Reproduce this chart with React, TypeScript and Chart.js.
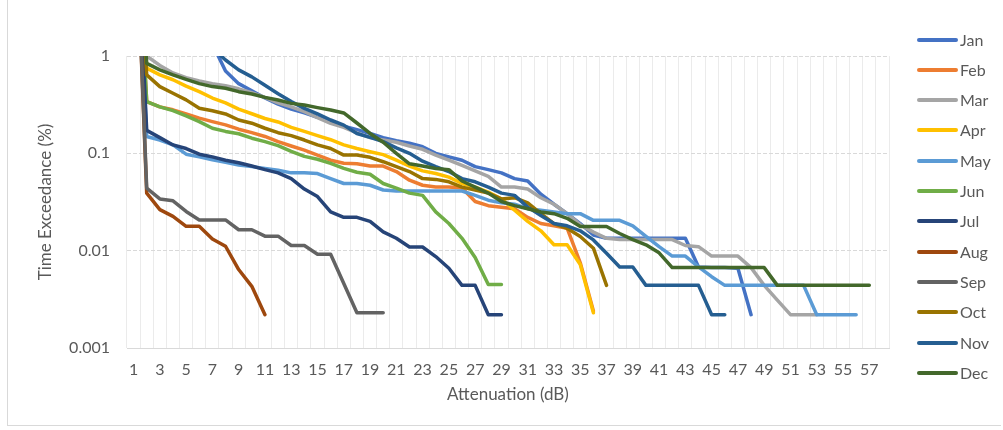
import React, { useEffect, useRef } from "react";
import { Chart, registerables } from "chart.js";

Chart.register(...registerables);

// ---------- DATA ----------
const attenuation = [
  "1", "2", "3", "4", "5", "6", "7", "8", "9", "10",
  "11", "12", "13", "14", "15", "16", "17", "18", "19", "20",
  "21", "22", "23", "24", "25", "26", "27", "28", "29", "30",
  "31", "32", "33", "34", "35", "36", "37", "38", "39", "40",
  "41", "42", "43", "44", "45", "46", "47", "48", "49", "50",
  "51", "52", "53", "54", "55", "56", "57", "58",
];

const yTickValues = [0.001, 0.01, 0.1, 1];
const yTickLabels = ["0.001", "0.01", "0.1", "1"];

const months = ["Jan", "Feb", "Mar", "Apr", "May", "Jun", "Jul", "Aug", "Sep", "Oct", "Nov", "Dec"];
const colors = [
  "#4472C4", "#ED7D31", "#A5A5A5", "#FFC000", "#5B9BD5", "#70AD47",
  "#264478", "#9E480E", "#636363", "#997300", "#255E91", "#43682B",
];

const jan = [
  100, 100, 100, 100, 100, 100, 1.33, 0.7, 0.52, 0.44,
  0.37, 0.32, 0.285, 0.26, 0.235, 0.21, 0.19, 0.175, 0.16, 0.145,
  0.135, 0.127, 0.117, 0.1, 0.092, 0.085, 0.073, 0.068, 0.063, 0.055,
  0.052, 0.038, 0.03, 0.024, 0.019, 0.0145, 0.0134, 0.0134, 0.0134, 0.0134,
  0.0134, 0.0134, 0.0134, 0.0068, 0.0067, 0.0067, 0.0066, 0.0022,
];
const feb = [
  100, 0.34, 0.3, 0.28, 0.254, 0.23, 0.212, 0.196, 0.177, 0.163,
  0.149, 0.132, 0.119, 0.108, 0.096, 0.085, 0.079, 0.078, 0.074, 0.074,
  0.065, 0.053, 0.047, 0.045, 0.045, 0.044, 0.032, 0.029, 0.028, 0.027,
  0.022, 0.019, 0.018, 0.017, 0.0075, 0.0024,
];
const mar = [
  100, 1.0, 0.8, 0.67, 0.6, 0.555, 0.52, 0.495, 0.46, 0.42,
  0.375, 0.33, 0.3, 0.268, 0.232, 0.203, 0.185, 0.162, 0.145, 0.137,
  0.13, 0.119, 0.11, 0.096, 0.085, 0.075, 0.066, 0.058, 0.045, 0.045,
  0.043, 0.035, 0.03, 0.024, 0.0185, 0.0155, 0.0134, 0.013, 0.013, 0.013,
  0.013, 0.013, 0.0113, 0.011, 0.0088, 0.0088, 0.0088, 0.0067, 0.0044, 0.0031,
  0.0022, 0.0022, 0.0022,
];
const apr = [
  100, 0.75, 0.64, 0.57, 0.49, 0.43, 0.37, 0.33, 0.285, 0.255,
  0.228, 0.21, 0.185, 0.168, 0.152, 0.138, 0.122, 0.112, 0.104, 0.097,
  0.085, 0.074, 0.066, 0.062, 0.057, 0.049, 0.045, 0.04, 0.034, 0.026,
  0.02, 0.016, 0.0115, 0.0115, 0.0072, 0.0023,
];
const may = [
  100, 0.149, 0.137, 0.122, 0.098, 0.092, 0.086, 0.081, 0.076, 0.073,
  0.07, 0.067, 0.063, 0.063, 0.062, 0.055, 0.049, 0.049, 0.047, 0.042,
  0.041, 0.041, 0.041, 0.041, 0.041, 0.041, 0.037, 0.033, 0.031, 0.03,
  0.027, 0.026, 0.025, 0.024, 0.024, 0.0205, 0.0205, 0.0205, 0.018, 0.014,
  0.011, 0.0088, 0.0088, 0.0068, 0.0054, 0.0044, 0.0044, 0.0044, 0.0044, 0.0044,
  0.0044, 0.0044, 0.0022, 0.0022, 0.0022, 0.0022,
];
const jun = [
  100, 0.34, 0.3, 0.275, 0.242, 0.212, 0.181, 0.168, 0.159, 0.143,
  0.132, 0.12, 0.105, 0.093, 0.087, 0.079, 0.07, 0.064, 0.061, 0.049,
  0.044, 0.039, 0.037, 0.025, 0.019, 0.0134, 0.0085, 0.0045, 0.0045,
];
const jul = [
  100, 0.172, 0.145, 0.122, 0.112, 0.098, 0.092, 0.085, 0.08, 0.074,
  0.068, 0.063, 0.055, 0.043, 0.036, 0.025, 0.022, 0.022, 0.02, 0.0156,
  0.0134, 0.0109, 0.0109, 0.0087, 0.0066, 0.0044, 0.0044, 0.0022, 0.0022,
];
const aug = [100, 0.039, 0.0264, 0.0225, 0.0178, 0.0178, 0.0132, 0.0111, 0.0064, 0.0043, 0.0022];
const sep = [
  100, 0.044, 0.034, 0.0325, 0.0253, 0.0207, 0.0207, 0.0207, 0.0164, 0.0164,
  0.0141, 0.0141, 0.0113, 0.0113, 0.0092, 0.0092, 0.0046, 0.0023, 0.0023, 0.0023,
];
const oct = [
  100, 0.64, 0.485, 0.414, 0.354, 0.29, 0.274, 0.254, 0.22, 0.204,
  0.181, 0.163, 0.152, 0.137, 0.122, 0.112, 0.096, 0.096, 0.091, 0.082,
  0.073, 0.065, 0.055, 0.054, 0.051, 0.045, 0.042, 0.039, 0.034, 0.035,
  0.031, 0.024, 0.019, 0.017, 0.014, 0.0106, 0.0044,
];
const nov = [
  100, 100, 100, 100, 100, 100, 1.2, 0.91, 0.72, 0.61,
  0.5, 0.41, 0.34, 0.29, 0.255, 0.22, 0.195, 0.16, 0.146, 0.132,
  0.114, 0.1, 0.083, 0.073, 0.065, 0.055, 0.051, 0.045, 0.039, 0.037,
  0.028, 0.023, 0.019, 0.018, 0.016, 0.0129, 0.0094, 0.0068, 0.0068, 0.0044,
  0.0044, 0.0044, 0.0044, 0.0044, 0.0022, 0.0022,
];
const dec = [
  100, 0.84, 0.72, 0.64, 0.575, 0.52, 0.485, 0.466, 0.43, 0.407,
  0.376, 0.353, 0.326, 0.314, 0.295, 0.279, 0.26, 0.205, 0.16, 0.13,
  0.1, 0.078, 0.074, 0.07, 0.068, 0.052, 0.045, 0.039, 0.032, 0.029,
  0.027, 0.025, 0.024, 0.0215, 0.0177, 0.0177, 0.0177, 0.015, 0.013, 0.0115,
  0.0095, 0.0067, 0.0067, 0.0067, 0.0067, 0.0067, 0.0067, 0.0067, 0.0067, 0.0044,
  0.0044, 0.0044, 0.0044, 0.0044, 0.0044, 0.0044, 0.0044,
];

const seriesValues = [jan, feb, mar, apr, may, jun, jul, aug, sep, oct, nov, dec];

const xTitle = "Attenuation (dB)";
const yTitle = "Time Exceedance (%)";

// ---------- STYLE ----------
const FONT = 'Lato, "Open Sans", sans-serif';
const TEXT = "#595959";

export default function App() {
  const ref = useRef<HTMLCanvasElement>(null);

  useEffect(() => {
    if (!ref.current) return;
    const chart = new Chart(ref.current, {
      type: "line",
      data: {
        labels: attenuation,
        datasets: months.map((m, i) => ({
          label: m,
          data: seriesValues[i],
          borderColor: colors[i],
          backgroundColor: colors[i],
          borderWidth: 3.5,
          pointRadius: 0,
          pointHoverRadius: 0,
          tension: 0,
          fill: false,
          borderJoinStyle: "round" as const,
          borderCapStyle: "round" as const,
          clip: 0,
          order: months.length - i,
        })),
      },
      options: {
        responsive: false,
        maintainAspectRatio: false,
        animation: false,
        events: [],
        layout: { padding: { left: 0, right: 114, top: 56, bottom: 12 } },
        plugins: {
          legend: { display: false },
          tooltip: { enabled: false },
        },
        scales: {
          x: {
            type: "category",
            offset: true,
            grid: { offset: true, color: "#ebebeb", lineWidth: 1, drawTicks: false },
            border: { display: true, color: "#d9d9d9", width: 1 },
            ticks: {
              autoSkip: false,
              maxRotation: 0,
              minRotation: 0,
              padding: 12,
              color: TEXT,
              font: { family: FONT, size: 16 },
              callback: (_v: any, i: number) => (i % 2 === 0 ? attenuation[i] : ""),
            },
            title: {
              display: true,
              text: xTitle,
              color: TEXT,
              font: { family: FONT, size: 17 },
              padding: { top: 0, bottom: 13 },
            },
            afterFit: (s: any) => {
              s.height = 70;
            },
          },
          y: {
            type: "logarithmic",
            min: 0.001,
            max: 1,
            afterBuildTicks: (s: any) => {
              s.ticks = yTickValues.map((v) => ({ value: v }));
            },
            grid: { color: "#d9d9d9", lineWidth: 1, drawTicks: false },
            border: { display: false, dash: [4, 2] },
            ticks: {
              padding: 17,
              color: TEXT,
              font: { family: FONT, size: 16 },
              callback: (v: any) => {
                const idx = yTickValues.findIndex((t) => Math.abs(t - Number(v)) < 1e-9);
                return idx >= 0 ? yTickLabels[idx] : "";
              },
            },
            title: {
              display: true,
              text: yTitle,
              color: TEXT,
              font: { family: FONT, size: 17 },
              padding: { top: 35, bottom: 0 },
            },
            afterFit: (s: any) => {
              s.width = 127;
            },
          },
        },
      },
    } as any);
    return () => chart.destroy();
  }, []);

  const legendTop = 39.5;
  const legendStep = 30.3;

  return (
    <div
      style={{
        position: "fixed",
        left: 0,
        top: 0,
        width: 1003,
        height: 430,
        background: "#ffffff",
        overflow: "hidden",
      }}
    >
      <div
        style={{
          position: "absolute",
          left: 7,
          top: 0,
          width: 993,
          height: 425,
          borderLeft: "1px solid #d9d9d9",
          borderBottom: "1px solid #d9d9d9",
        }}
      />
      <canvas ref={ref} width={1003} height={430} style={{ position: "absolute", left: 0, top: 0 }} />
      {months.map((m, i) => (
        <div
          key={m}
          style={{
            position: "absolute",
            left: 917,
            top: legendTop + i * legendStep - 10,
            height: 20,
            display: "flex",
            alignItems: "center",
          }}
        >
          <div style={{ width: 41, height: 4, borderRadius: 2, background: colors[i] }} />
          <span
            style={{
              marginLeft: 2,
              fontFamily: FONT,
              fontSize: 16,
              color: TEXT,
              lineHeight: "20px",
            }}
          >
            {m}
          </span>
        </div>
      ))}
    </div>
  );
}
